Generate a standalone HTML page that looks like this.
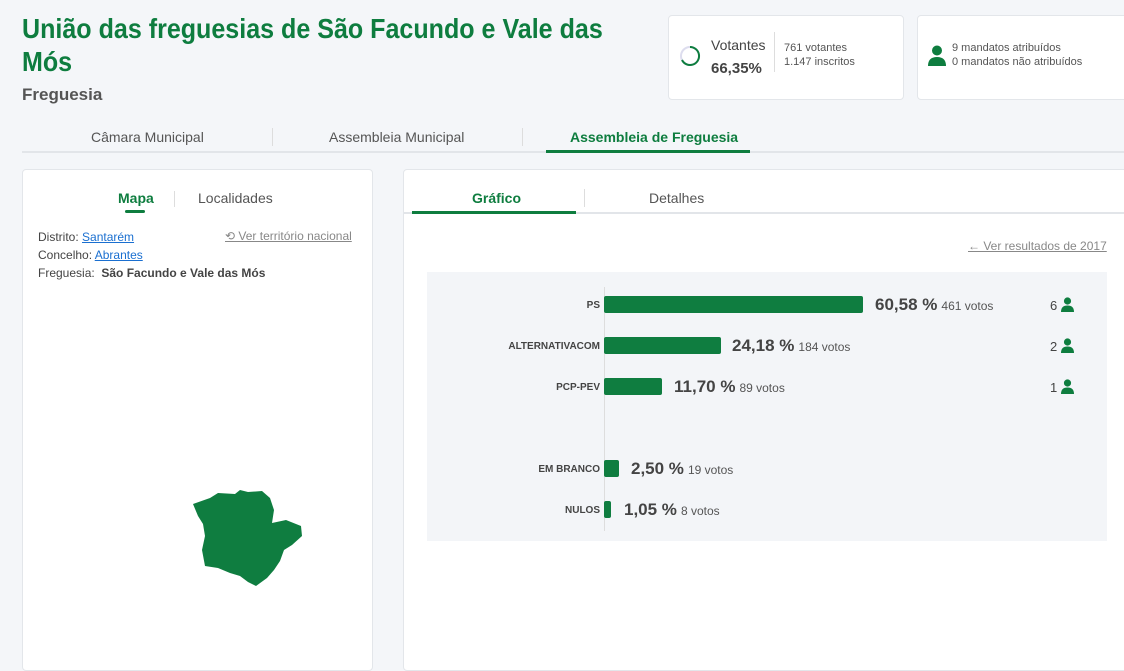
<!DOCTYPE html>
<html><head><meta charset="utf-8"><style>
body{margin:0;width:1124px;height:654px;background:#f4f6f9;font-family:"Liberation Sans",sans-serif;position:relative;overflow:hidden;color:#333}
.a{position:absolute;white-space:nowrap}
.g{color:#0e7d3f}
.card{position:absolute;background:#fff;border:1px solid #e3e6ea;border-radius:4px}
.bar{position:absolute;background:#0f7d40;border-radius:2px;left:604px;height:17px}
.lbl{position:absolute;right:524px;font-size:10px;font-weight:bold;color:#444;text-align:right}
.pct{position:absolute;font-size:17px;font-weight:bold;color:#444}
.pct span{font-size:12px;font-weight:normal;color:#555;margin-left:4px}
.m{position:absolute;left:1050px;font-size:13px;color:#444}
a{color:#1a6fd0;text-decoration:underline}
</style></head><body>
<div class="a g" style="left:22px;top:12px;font-size:28px;font-weight:bold;line-height:33px;transform:scaleX(0.895);transform-origin:0 0">União das freguesias de São Facundo e Vale das<br>Mós</div>
<div class="a" style="left:22px;top:85px;font-size:17px;font-weight:bold;color:#555">Freguesia</div>

<div class="card" style="left:668px;top:15px;width:234px;height:83px"></div>
<svg class="a" style="left:679px;top:45px" width="22" height="22"><circle cx="11" cy="11" r="9" fill="none" stroke="#dde" stroke-width="2"/><path d="M11 2 A9 9 0 1 1 3 15" fill="none" stroke="#0e7d3f" stroke-width="2"/></svg>
<div class="a" style="left:711px;top:37px;font-size:14px;color:#444">Votantes</div>
<div class="a" style="left:711px;top:60px;font-size:15px;font-weight:bold;color:#444">66,35%</div>
<div class="a" style="left:774px;top:32px;width:1px;height:40px;background:#ddd"></div>
<div class="a" style="left:784px;top:41px;font-size:11px;color:#555;line-height:14px">761 votantes<br>1.147 inscritos</div>
<div class="card" style="left:917px;top:15px;width:220px;height:83px"></div>
<svg class="a" style="left:928px;top:45px" width="18" height="22"><circle cx="9" cy="5.5" r="5" fill="#0e7d3f"/><path d="M0 21 Q0 12 9 12 Q18 12 18 21Z" fill="#0e7d3f"/></svg>
<div class="a" style="left:952px;top:41px;font-size:11px;color:#555;line-height:14px">9 mandatos atribuídos<br>0 mandatos não atribuídos</div>

<div class="a" style="left:91px;top:129px;font-size:14px;color:#555">Câmara Municipal</div>
<div class="a" style="left:272px;top:128px;width:1px;height:18px;background:#ddd"></div>
<div class="a" style="left:329px;top:129px;font-size:14px;color:#555">Assembleia Municipal</div>
<div class="a" style="left:522px;top:128px;width:1px;height:18px;background:#ddd"></div>
<div class="a g" style="left:570px;top:129px;font-size:14px;font-weight:bold">Assembleia de Freguesia</div>
<div class="a" style="left:22px;top:151px;width:1102px;height:2px;background:#e2e5e9"></div>
<div class="a" style="left:546px;top:150px;width:204px;height:3px;background:#0e7d3f"></div>

<div class="card" style="left:22px;top:169px;width:349px;height:500px"></div>
<div class="a g" style="left:118px;top:190px;font-size:14px;font-weight:bold">Mapa</div>
<div class="a" style="left:125px;top:210px;width:20px;height:3px;background:#0e7d3f;border-radius:2px"></div>
<div class="a" style="left:174px;top:191px;width:1px;height:16px;background:#ddd"></div>
<div class="a" style="left:198px;top:190px;font-size:14px;color:#555">Localidades</div>
<div class="a" style="left:38px;top:228px;font-size:12px;color:#444;line-height:18px">Distrito: <a>Santarém</a><br>Concelho: <a>Abrantes</a><br>Freguesia:&nbsp; <b>São Facundo e Vale das Mós</b></div>
<div class="a" style="left:225px;top:229px;font-size:12px;color:#888;text-decoration:underline">⟲ Ver território nacional</div>
<svg class="a" style="left:190px;top:488px" width="115" height="102"><path d="M3 16 L20 10 L28 5 L45 6 L50 2 L58 4 L72 3 L80 10 L84 22 L82 35 L96 32 L111 38 L112 48 L102 57 L94 62 L90 73 L84 82 L77 90 L66 98 L58 94 L50 88 L40 85 L28 80 L15 78 L12 62 L15 48 L13 36 L8 28Z" fill="#0f7d40"/></svg>

<div class="card" style="left:403px;top:169px;width:730px;height:500px"></div>
<div class="a" style="left:472px;top:190px;font-size:14px;font-weight:bold;color:#0e7d3f">Gráfico</div>
<div class="a" style="left:584px;top:189px;width:1px;height:18px;background:#ddd"></div>
<div class="a" style="left:649px;top:190px;font-size:14px;color:#555">Detalhes</div>
<div class="a" style="left:404px;top:212px;width:720px;height:2px;background:#e2e5e9"></div>
<div class="a" style="left:412px;top:211px;width:164px;height:3px;background:#0e7d3f"></div>
<div class="a" style="left:968px;top:239px;font-size:12px;color:#888;text-decoration:underline">← Ver resultados de 2017</div>

<div class="a" style="left:427px;top:272px;width:680px;height:269px;background:#f3f5f8"></div>
<div class="a" style="left:604px;top:287px;width:1px;height:244px;background:#ddd"></div>
<div class="lbl" style="top:300px">PS</div>
<div class="bar" style="top:296px;width:259px"></div>
<div class="pct" style="left:875px;top:295px">60,58 %<span>461 votos</span></div>
<div class="lbl" style="top:341px">ALTERNATIVACOM</div>
<div class="bar" style="top:337px;width:117px"></div>
<div class="pct" style="left:732px;top:336px">24,18 %<span>184 votos</span></div>
<div class="lbl" style="top:382px">PCP-PEV</div>
<div class="bar" style="top:378px;width:58px"></div>
<div class="pct" style="left:674px;top:377px">11,70 %<span>89 votos</span></div>
<div class="lbl" style="top:464px">EM BRANCO</div>
<div class="bar" style="top:460px;width:15px"></div>
<div class="pct" style="left:631px;top:459px">2,50 %<span>19 votos</span></div>
<div class="lbl" style="top:505px">NULOS</div>
<div class="bar" style="top:501px;width:7px"></div>
<div class="pct" style="left:624px;top:500px">1,05 %<span>8 votos</span></div>
<div class="m" style="top:297px">6 <svg width="13" height="15" style="vertical-align:-2px"><circle cx="6.5" cy="4" r="3.6" fill="#0e7d3f"/><path d="M0 15 Q0 8.5 6.5 8.5 Q13 8.5 13 15Z" fill="#0e7d3f"/></svg></div>
<div class="m" style="top:338px">2 <svg width="13" height="15" style="vertical-align:-2px"><circle cx="6.5" cy="4" r="3.6" fill="#0e7d3f"/><path d="M0 15 Q0 8.5 6.5 8.5 Q13 8.5 13 15Z" fill="#0e7d3f"/></svg></div>
<div class="m" style="top:379px">1 <svg width="13" height="15" style="vertical-align:-2px"><circle cx="6.5" cy="4" r="3.6" fill="#0e7d3f"/><path d="M0 15 Q0 8.5 6.5 8.5 Q13 8.5 13 15Z" fill="#0e7d3f"/></svg></div>
</body></html>
